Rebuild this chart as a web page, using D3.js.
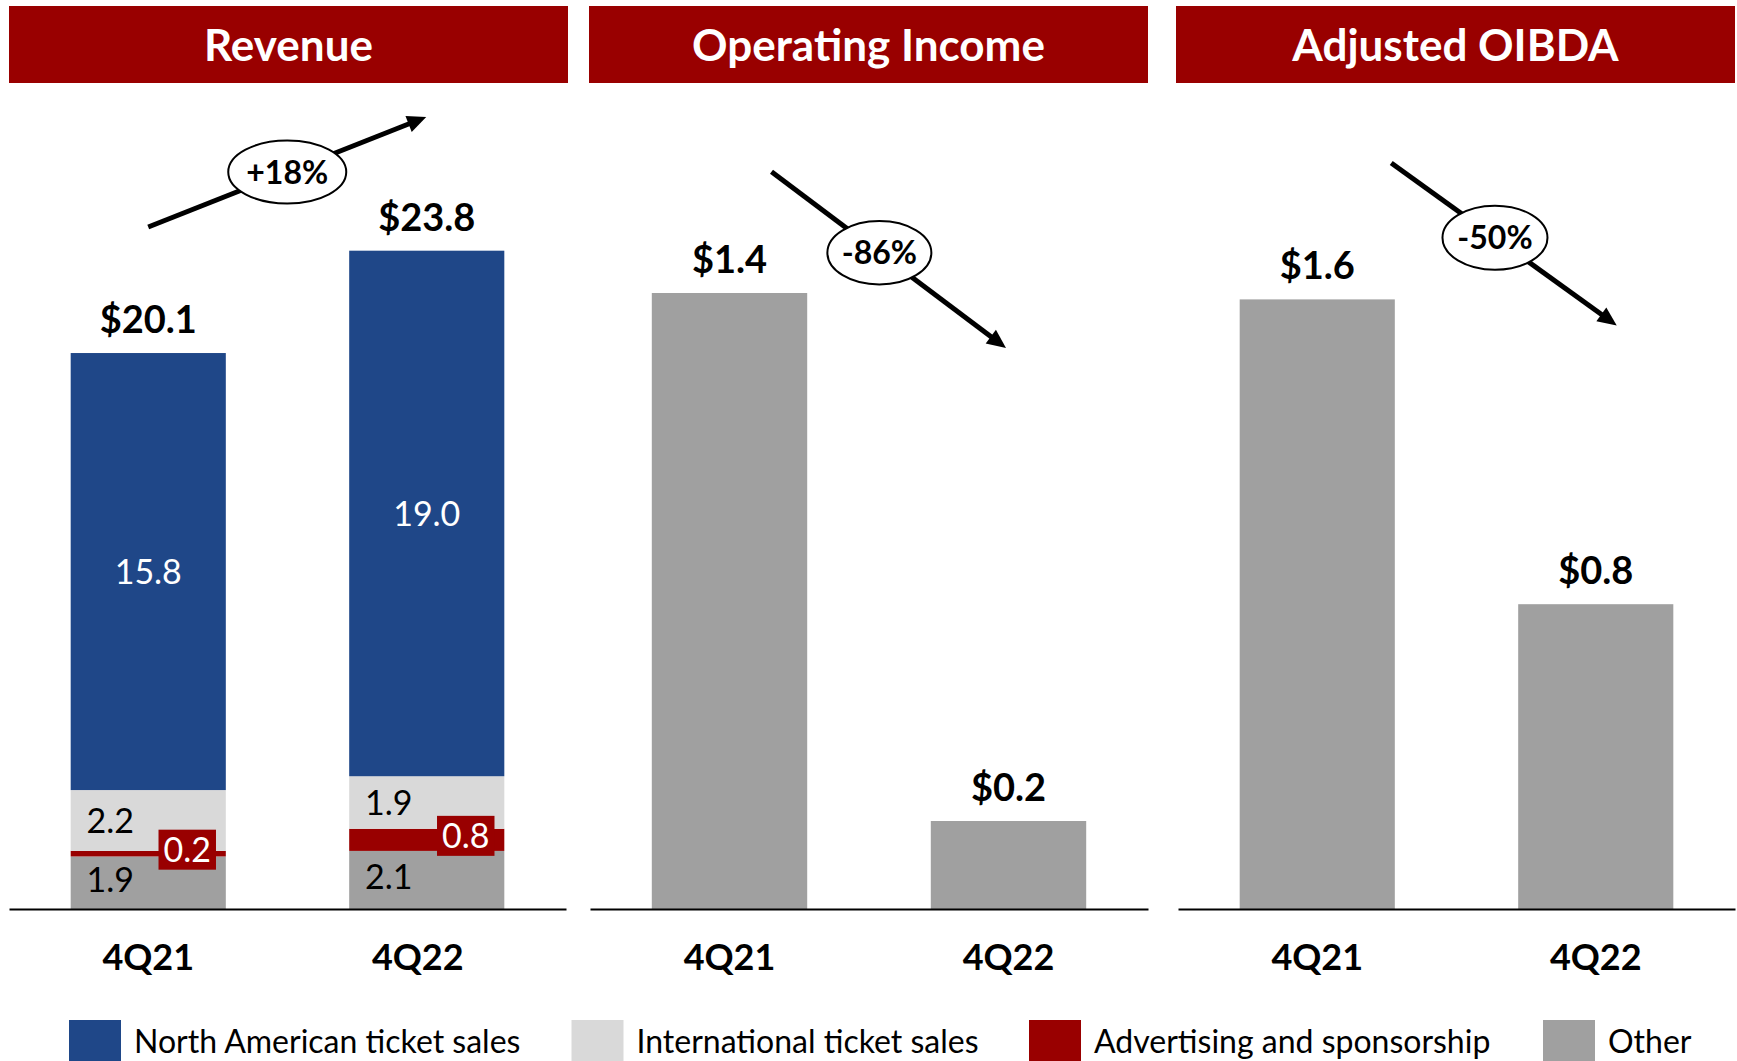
<!DOCTYPE html>
<html><head><meta charset="utf-8">
<script src="https://cdn.jsdelivr.net/npm/d3@7"></script>
<style>
body{margin:0;background:#fff}
svg{display:block}
text{font-family:Lato,"Open Sans",sans-serif}
</style>
</head><body>
<svg id="chart" width="1737" height="1061"></svg>
<script>
// ---------- data ----------
const categories = ["4Q21", "4Q22"];
const panelTitles = ["Revenue", "Operating Income", "Adjusted OIBDA"];
const seriesNames = ["North American ticket sales", "International ticket sales", "Advertising and sponsorship", "Other"];
const northAmerican = [15.8, 19.0];
const international = [2.2, 1.9];
const advertising = [0.2, 0.8];
const other = [1.9, 2.1];
const revenueTotals = [20.1, 23.8];
const operatingIncome = [1.4, 0.2];
const adjustedOIBDA = [1.6, 0.8];
const changeLabels = ["+18%", "-86%", "-50%"];

// ---------- styles / layout ----------
const colors = {na: "#1F4788", intl: "#D9D9D9", adv: "#990000", other: "#A0A0A0"};
const headerRed = "#990000";
const svg = d3.select("#chart");
const baseY = 909;
const panels = [
  {x0: 9,    x1: 566,  hx0: 9,    hx1: 568,  yMax: 25,  yTop: 217.5, tickDx: [0, -9]},
  {x0: 590,  x1: 1148, hx0: 589,  hx1: 1148, yMax: 1.5, yTop: 249,   tickDx: [0, 0]},
  {x0: 1178, x1: 1735, hx0: 1176, hx1: 1735, yMax: 1.8, yTop: 223.2, tickDx: [0, 0]}
];
// annotation arrows (offsets from band centres, pixel y)
const arrowLayout = [
  {fromDx: 0,  fromY: 227,   toDx: -0.5, toY: 117,   t: 0.5,  rx: 59,   ry: 31.5},
  {fromDx: 42, fromY: 171.7, toDx: -2.5, toY: 348,   t: 0.46, rx: 52,   ry: 31.7},
  {fromDx: 74, fromY: 163,   toDx: 21,   toY: 325.5, t: 0.46, rx: 52.5, ry: 32}
];
const legendX = [69, 571.5, 1029, 1543];

const panelData = [null, operatingIncome, adjustedOIBDA];

panels.forEach((p, pi) => {
  const g = svg.append("g");
  // header
  g.append("rect").attr("x", p.hx0).attr("y", 6).attr("width", p.hx1 - p.hx0).attr("height", 77)
    .attr("fill", headerRed);
  g.append("text").attr("x", (p.hx0 + p.hx1) / 2).attr("y", 61).attr("text-anchor", "middle")
    .attr("font-size", 44).attr("font-weight", 700).attr("fill", "#fff").text(panelTitles[pi]);

  const x = d3.scaleBand().domain(categories).range([p.x0, p.x1]).paddingInner(0.443).paddingOuter(0.2215);
  const y = d3.scaleLinear().domain([0, p.yMax]).range([baseY, p.yTop]);
  const bw = x.bandwidth();
  const cx = c => x(c) + bw / 2;

  let totals;
  if (pi === 0) {
    const rows = categories.map((c, i) => ({cat: c, other: other[i], adv: advertising[i], intl: international[i], na: northAmerican[i]}));
    const keys = ["other", "adv", "intl", "na"];
    const stacked = d3.stack().keys(keys)(rows);
    stacked.forEach(layer => {
      g.selectAll(null).data(layer).enter().append("rect")
        .attr("x", d => x(d.data.cat)).attr("width", bw)
        .attr("y", d => y(d[1])).attr("height", d => y(d[0]) - y(d[1]))
        .attr("fill", colors[layer.key]);
    });
    // segment labels
    stacked.forEach(layer => {
      layer.forEach(d => {
        const v = d.data[layer.key];
        const mid = (y(d[0]) + y(d[1])) / 2;
        const c = cx(d.data.cat);
        if (layer.key === "na") {
          g.append("text").attr("x", c).attr("y", mid).attr("dy", "0.36em").attr("text-anchor", "middle")
            .attr("font-size", 34).attr("fill", "#fff").text(d3.format(".1f")(v));
        } else if (layer.key === "adv") {
          const t = g.append("text").attr("x", c + 39).attr("y", mid - 4).attr("dy", "0.36em").attr("text-anchor", "middle")
            .attr("font-size", 34).attr("fill", "#fff").text(d3.format(".1f")(v));
          const w = t.node().getComputedTextLength();
          g.insert("rect", () => t.node()).attr("x", c + 39 - w / 2 - 5).attr("y", mid - 4 - 20)
            .attr("width", w + 10).attr("height", 40).attr("fill", colors.adv);
        } else {
          g.append("text").attr("x", c - 38).attr("y", mid - (layer.key === "other" ? 3 : 0)).attr("dy", "0.36em")
            .attr("text-anchor", "middle").attr("font-size", 34).attr("fill", "#000").text(d3.format(".1f")(v));
        }
      });
    });
    totals = revenueTotals;
  } else {
    const vals = panelData[pi];
    g.selectAll(null).data(categories).enter().append("rect")
      .attr("x", d => x(d)).attr("width", bw)
      .attr("y", (d, i) => y(vals[i])).attr("height", (d, i) => baseY - y(vals[i]))
      .attr("fill", colors.other);
    totals = vals;
  }
  // value labels
  g.selectAll(null).data(categories).enter().append("text")
    .attr("x", d => cx(d)).attr("y", (d, i) => y(totals[i]) - 20)
    .attr("text-anchor", "middle").attr("font-size", 38).attr("font-weight", 700).attr("fill", "#000")
    .text((d, i) => "$" + d3.format(".1f")(totals[i]));

  // axis
  const ax = g.append("g").attr("transform", `translate(0,${baseY})`)
    .call(d3.axisBottom(x).tickSize(0).tickSizeOuter(0).tickPadding(35));
  ax.select(".domain").attr("stroke", "#000").attr("stroke-width", 2);
  ax.selectAll(".tick text").attr("font-size", 36).attr("font-weight", 700).attr("fill", "#000")
    .attr("font-family", "Lato, 'Open Sans', sans-serif")
    .attr("dx", (d, i) => p.tickDx[i]);

  // annotation arrow
  const a = arrowLayout[pi];
  const S = [cx(categories[0]) + a.fromDx, a.fromY];
  const E = [cx(categories[1]) + a.toDx, a.toY];
  const len = Math.hypot(E[0] - S[0], E[1] - S[1]);
  const u = [(E[0] - S[0]) / len, (E[1] - S[1]) / len];
  const n = [-u[1], u[0]];
  const L = 19, W = 8.5;
  const B = [E[0] - u[0] * L, E[1] - u[1] * L];
  g.append("line").attr("x1", S[0]).attr("y1", S[1]).attr("x2", B[0] + u[0] * 2).attr("y2", B[1] + u[1] * 2)
    .attr("stroke", "#000").attr("stroke-width", 5);
  g.append("polygon").attr("points", [E, [B[0] + n[0] * W, B[1] + n[1] * W], [B[0] - n[0] * W, B[1] - n[1] * W]].map(q => q.join(",")).join(" "))
    .attr("fill", "#000");
  const C = [S[0] + (E[0] - S[0]) * a.t, S[1] + (E[1] - S[1]) * a.t];
  g.append("ellipse").attr("cx", C[0]).attr("cy", C[1]).attr("rx", a.rx).attr("ry", a.ry)
    .attr("fill", "#fff").attr("stroke", "#000").attr("stroke-width", 2);
  g.append("text").attr("x", C[0]).attr("y", C[1]).attr("dy", "0.36em").attr("text-anchor", "middle")
    .attr("font-size", 32).attr("font-weight", 700).attr("fill", "#000").text(changeLabels[pi]);
});

// legend
const legendColors = [colors.na, colors.intl, colors.adv, colors.other];
const lg = svg.append("g");
seriesNames.forEach((name, i) => {
  const lx = legendX[i];
  lg.append("rect").attr("x", lx).attr("y", 1020).attr("width", 52).attr("height", 41).attr("fill", legendColors[i]);
  lg.append("text").attr("x", lx + 65).attr("y", 1053).attr("font-size", 32).attr("fill", "#000").text(name);
});
</script>
</body></html>
